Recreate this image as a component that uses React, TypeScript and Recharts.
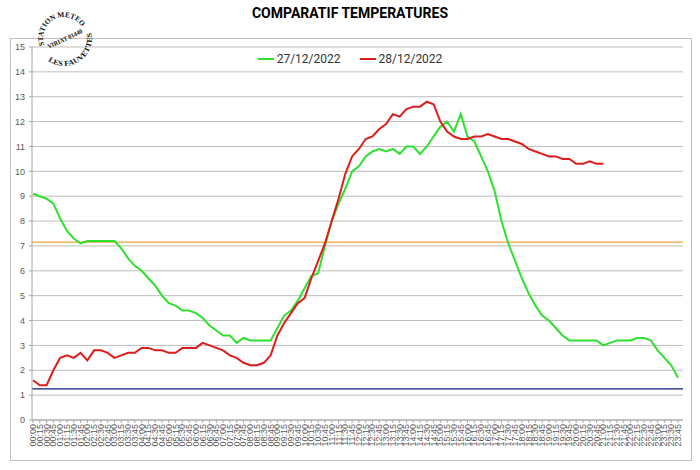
import { LineChart, Line, XAxis, YAxis, CartesianGrid, Legend, ReferenceLine } from "recharts";

// 15-minute categories
const timeLabels = [
  "00:00", "00:15", "00:30", "00:45", "01:00", "01:15", "01:30", "01:45",
  "02:00", "02:15", "02:30", "02:45", "03:00", "03:15", "03:30", "03:45",
  "04:00", "04:15", "04:30", "04:45", "05:00", "05:15", "05:30", "05:45",
  "06:00", "06:15", "06:30", "06:45", "07:00", "07:15", "07:30", "07:45",
  "08:00", "08:15", "08:30", "08:45", "09:00", "09:15", "09:30", "09:45",
  "10:00", "10:15", "10:30", "10:45", "11:00", "11:15", "11:30", "11:45",
  "12:00", "12:15", "12:30", "12:45", "13:00", "13:15", "13:30", "13:45",
  "14:00", "14:15", "14:30", "14:45", "15:00", "15:15", "15:30", "15:45",
  "16:00", "16:15", "16:30", "16:45", "17:00", "17:15", "17:30", "17:45",
  "18:00", "18:15", "18:30", "18:45", "19:00", "19:15", "19:30", "19:45",
  "20:00", "20:15", "20:30", "20:45", "21:00", "21:15", "21:30", "21:45",
  "22:00", "22:15", "22:30", "22:45", "23:00", "23:15", "23:30", "23:45",
];

// 27/12/2022
const temp27 = [
  9.1, 9.0, 8.9, 8.7, 8.1, 7.6, 7.3, 7.1, 7.2, 7.2, 7.2, 7.2,
  7.2, 6.9, 6.5, 6.2, 6.0, 5.7, 5.4, 5.0, 4.7, 4.6, 4.4, 4.4,
  4.3, 4.1, 3.8, 3.6, 3.4, 3.4, 3.1, 3.3, 3.2, 3.2, 3.2, 3.2,
  3.7, 4.2, 4.4, 4.8, 5.3, 5.8, 5.9, 7.0, 8.0, 8.7, 9.3, 10.0,
  10.2, 10.6, 10.8, 10.9, 10.8, 10.9, 10.7, 11.0, 11.0, 10.7, 11.0, 11.4,
  11.8, 12.0, 11.6, 12.3, 11.4, 11.2, 10.6, 10.0, 9.2, 8.0, 7.1, 6.4,
  5.7, 5.1, 4.6, 4.2, 4.0, 3.7, 3.4, 3.2, 3.2, 3.2, 3.2, 3.2,
  3.0, 3.1, 3.2, 3.2, 3.2, 3.3, 3.3, 3.2, 2.8, 2.5, 2.2, 1.7,
];

// 28/12/2022 (stops around 21:00)
const temp28 = [
  1.6, 1.4, 1.4, 2.0, 2.5, 2.6, 2.5, 2.7, 2.4, 2.8, 2.8, 2.7,
  2.5, 2.6, 2.7, 2.7, 2.9, 2.9, 2.8, 2.8, 2.7, 2.7, 2.9, 2.9,
  2.9, 3.1, 3.0, 2.9, 2.8, 2.6, 2.5, 2.3, 2.2, 2.2, 2.3, 2.6,
  3.4, 3.9, 4.3, 4.7, 4.9, 5.7, 6.4, 7.1, 8.0, 8.9, 9.9, 10.6,
  10.9, 11.3, 11.4, 11.7, 11.9, 12.3, 12.2, 12.5, 12.6, 12.6, 12.8, 12.7,
  12.0, 11.6, 11.4, 11.3, 11.3, 11.4, 11.4, 11.5, 11.4, 11.3, 11.3, 11.2,
  11.1, 10.9, 10.8, 10.7, 10.6, 10.6, 10.5, 10.5, 10.3, 10.3, 10.4, 10.3,
  10.3,
];

const yTicks = [0, 1, 2, 3, 4, 5, 6, 7, 8, 9, 10, 11, 12, 13, 14, 15];
const upperLine = 7.15;
const lowerLine = 1.25;

const rows = timeLabels.map((time, i) => ({
  time,
  t27: temp27[i],
  t28: i < temp28.length ? temp28[i] : null,
}));

const FONT = "'Liberation Sans', Arial, sans-serif";

const TimeTick = ({ x, y, payload }: any) => (
  <text
    x={x}
    y={y}
    transform={`rotate(-90, ${x}, ${y})`}
    textAnchor="end"
    dominantBaseline="central"
    fontSize={9}
    fill="#595959"
    fontFamily={FONT}
  >
    {payload.value}
  </text>
);

const LegendRow = ({ payload }: any) => (
  <div
    style={{
      display: "flex",
      justifyContent: "center",
      gap: 19,
      fontFamily: "Roboto, sans-serif",
      fontSize: 12,
      color: "#333",
      lineHeight: "16px",
    }}
  >
    {(payload || []).map((p: any) => (
      <div key={p.value} style={{ display: "flex", alignItems: "center" }}>
        <span style={{ display: "inline-block", width: 16, height: 2, background: p.color, marginRight: 3 }} />
        <span>{p.value}</span>
      </div>
    ))}
  </div>
);

// circular station stamp, top-left
const Stamp = () => (
  <svg width={130} height={80} style={{ position: "absolute", left: 0, top: 0, pointerEvents: "none" }}>
    <defs>
      <path id="stampTop" d="M 44.3 45.2 A 21 21 0 0 1 82.2 27.5" />
      <path id="stampBottom" d="M 48 61 A 28 28 0 0 0 90.3 28.4" />
    </defs>
    <g fontFamily="'Liberation Serif', 'DejaVu Serif', serif" fontWeight="bold" fill="#111">
      <text fontSize={7.5}>
        <textPath href="#stampTop" textLength={61} lengthAdjust="spacingAndGlyphs">STATION METEO</textPath>
      </text>
      <text
        fontSize={6.5}
        transform="rotate(-25, 65, 39)"
        x={65}
        y={41}
        textAnchor="middle"
        textLength={38}
        lengthAdjust="spacingAndGlyphs"
      >
        VIRIAT 01440
      </text>
      <text fontSize={7.5}>
        <textPath href="#stampBottom" textLength={66} lengthAdjust="spacingAndGlyphs">LES FAUVETTES</textPath>
      </text>
    </g>
  </svg>
);

export default function App() {
  return (
    <div style={{ position: "absolute", left: 0, top: 0, width: 700, height: 470, background: "#fff" }}>
      <div
        style={{
          position: "absolute",
          left: 0,
          top: 5,
          width: 700,
          textAlign: "center",
          fontFamily: "Roboto, sans-serif",
          fontWeight: "bold",
          fontSize: 14,
          color: "#000",
        }}
      >
        COMPARATIF TEMPERATURES
      </div>
      <div
        style={{
          position: "absolute",
          left: 10,
          top: 38,
          width: 680,
          height: 421,
          border: "1px solid #c0c0c0",
        }}
      />
      <div style={{ position: "absolute", left: 0, top: 0 }}>
        <LineChart width={700} height={470} data={rows} margin={{ top: 47, right: 17, bottom: 10, left: 10 }}>
          <CartesianGrid vertical={false} stroke="#bdbdbd" />
          <XAxis
            dataKey="time"
            interval={0}
            height={40}
            padding={{ left: 1, right: 5 }}
            tickSize={3}
            tickMargin={1}
            tickLine={{ stroke: "#a6a6a6" }}
            axisLine={{ stroke: "#a6a6a6" }}
            tick={<TimeTick />}
          />
          <YAxis
            type="number"
            domain={[0, 15]}
            ticks={yTicks}
            width={22}
            tickSize={3}
            tickMargin={4}
            tickLine={{ stroke: "#a6a6a6" }}
            axisLine={{ stroke: "#a6a6a6" }}
            tick={{ fontSize: 9, fill: "#595959", fontFamily: FONT }}
          />
          <ReferenceLine y={upperLine} stroke="#eda23c" strokeWidth={1.25} ifOverflow="visible" />
          <ReferenceLine y={lowerLine} stroke="#0b1a7a" strokeWidth={1.25} ifOverflow="visible" />
          <Legend
            verticalAlign="middle"
            wrapperStyle={{ top: 51, left: 0, width: 700 }}
            content={<LegendRow />}
          />
          <Line
            name="27/12/2022"
            dataKey="t27"
            type="linear"
            stroke="#2fe02f"
            strokeWidth={2}
            dot={false}
            isAnimationActive={false}
          />
          <Line
            name="28/12/2022"
            dataKey="t28"
            type="linear"
            stroke="#e01b1b"
            strokeWidth={2}
            dot={false}
            connectNulls={false}
            isAnimationActive={false}
          />
        </LineChart>
      </div>
      <Stamp />
    </div>
  );
}
